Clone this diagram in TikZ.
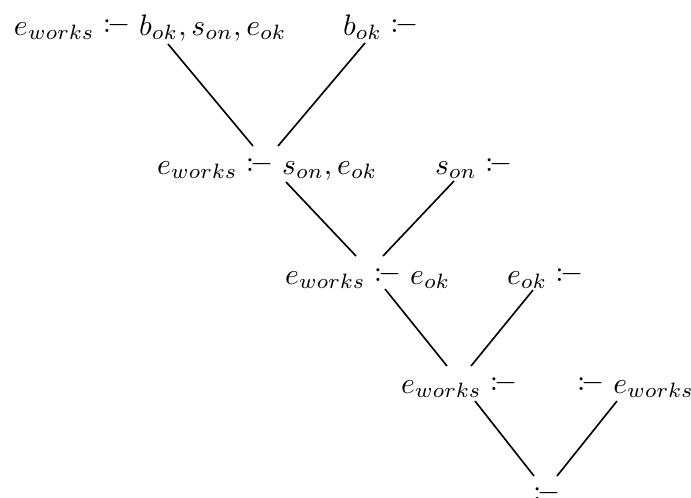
\documentclass[tikz,border=0pt]{standalone}
% Prolog-style "if": a colon followed closely by a minus, both lifted a little
\newcommand{\ifsym}{\mathrel{\raisebox{0.09em}{$\mathord{:}\mkern-2mu\mathord{-}$}}}
\begin{document}
\begin{tikzpicture}[x=0.337pt,y=-0.337pt,
  clause/.style={inner sep=0pt,outer sep=0pt,anchor=base west},
  edge/.style={draw=black,line width=0.55pt}]
\useasboundingbox (0,0) rectangle (691,497);
% clauses of the resolution tree, row by row
\node[clause] (A) at (14,35)  {$e_{works} \ifsym b_{ok}, s_{on}, e_{ok}$};
\node[clause] (B) at (343,35) {$b_{ok} \ifsym$};
\node[clause] (C) at (157,174) {$e_{works} \ifsym s_{on}, e_{ok}$};
\node[clause] (D) at (435,174) {$s_{on} \ifsym$};
\node[clause] (E) at (285,284) {$e_{works} \ifsym e_{ok}$};
\node[clause] (F) at (507,284) {$e_{ok} \ifsym$};
\node[clause] (G) at (401,393) {$e_{works} \ifsym$};
\node[clause] (H) at (577,393) {$\ifsym e_{works}$};
\node[clause] (K) at (533,503) {$\ifsym$};
% resolution steps
\draw[edge] ([shift={(154,9)}]A.base west) -- ([shift={(96,-28)}]C.base west);
\draw[edge] ([shift={(22,8)}]B.base west) -- ([shift={(121,-28)}]C.base west);
\draw[edge] ([shift={(129,8)}]C.base west) -- ([shift={(71,-28)}]E.base west);
\draw[edge] ([shift={(19,7)}]D.base west) -- ([shift={(98,-28)}]E.base west);
\draw[edge] ([shift={(100,5)}]E.base west) -- ([shift={(46,-27)}]G.base west);
\draw[edge] ([shift={(26,6)}]F.base west) -- ([shift={(70,-27)}]G.base west);
\draw[edge] ([shift={(74,8)}]G.base west) -- ([shift={(1,-27)}]K.base west);
\draw[edge] ([shift={(40,8)}]H.base west) -- ([shift={(24,-27)}]K.base west);
\end{tikzpicture}
\end{document}
